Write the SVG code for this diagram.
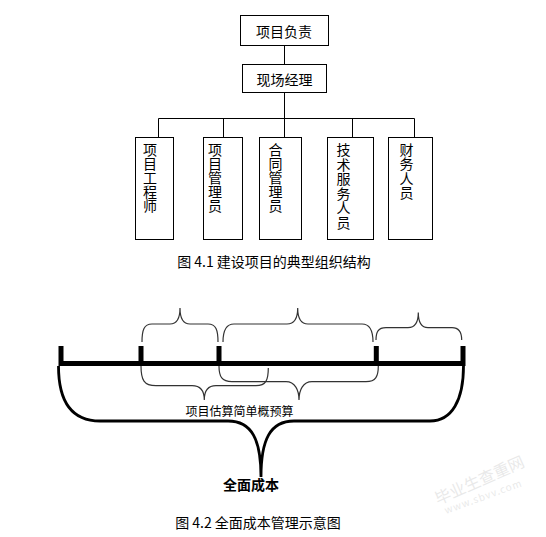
<svg xmlns="http://www.w3.org/2000/svg" width="546" height="537" viewBox="0 0 546 537">
<style>
.box{fill:#fff;stroke:#000;stroke-width:1}
.ln{fill:none;stroke:#000;stroke-width:1}
.t{font-family:"Noto Sans CJK SC","Liberation Sans",sans-serif;font-size:14px;fill:#000}
.vt{font-family:"Noto Sans CJK SC","Liberation Sans",sans-serif;font-size:14px;fill:#000;text-anchor:middle}
.br{fill:none;stroke:#333;stroke-width:1.2}
.bar{fill:none;stroke:#000;stroke-width:5}
.big{fill:none;stroke:#000;stroke-width:2.8}
</style>
<rect width="546" height="537" fill="#fff"/>
<g id="connectors">
<path class="ln" d="M284.5,45 V64 M284.5,92 V118.5 M158.5,118.5 H414.5 M158.5,118.5 V137 M223.5,118.5 V137 M284.5,118.5 V137 M352.5,118.5 V137 M414.5,118.5 V137"/>
</g>
<g id="n-top"><rect class="box" x="240.5" y="15.5" width="88" height="30"/><text class="t" x="284" y="36.5" text-anchor="middle">项目负责</text></g>
<g id="n-mgr"><rect class="box" x="242.5" y="64.5" width="84" height="28"/><text class="t" x="284.5" y="85" text-anchor="middle">现场经理</text></g>
<g id="n-eng"><rect class="box" x="135.5" y="137.5" width="38" height="102"/>
<text class="vt" y="155"><tspan x="150">项</tspan><tspan x="150" dy="14">目</tspan><tspan x="150" dy="14">工</tspan><tspan x="150" dy="14">程</tspan><tspan x="150" dy="14">师</tspan></text></g>
<g id="n-pm"><rect class="box" x="203.5" y="137.5" width="39" height="102"/>
<text class="vt" y="155"><tspan x="215">项</tspan><tspan x="215" dy="14">目</tspan><tspan x="215" dy="14">管</tspan><tspan x="215" dy="14">理</tspan><tspan x="215" dy="14">员</tspan></text></g>
<g id="n-contract"><rect class="box" x="259.5" y="137.5" width="42" height="102"/>
<text class="vt" y="155"><tspan x="275.5">合</tspan><tspan x="275.5" dy="14">同</tspan><tspan x="275.5" dy="14">管</tspan><tspan x="275.5" dy="14">理</tspan><tspan x="275.5" dy="14">员</tspan></text></g>
<g id="n-tech"><rect class="box" x="327.5" y="137.5" width="46" height="102"/>
<text class="vt" y="155"><tspan x="343.5">技</tspan><tspan x="343.5" dy="14.5">术</tspan><tspan x="343.5" dy="14.5">服</tspan><tspan x="343.5" dy="14.5">务</tspan><tspan x="343.5" dy="14.5">人</tspan><tspan x="343.5" dy="14.5">员</tspan></text></g>
<g id="n-fin"><rect class="box" x="388.5" y="137.5" width="44" height="102"/>
<text class="vt" y="155"><tspan x="406.5">财</tspan><tspan x="406.5" dy="14.3">务</tspan><tspan x="406.5" dy="14.3">人</tspan><tspan x="406.5" dy="14.3">员</tspan></text></g>
<text class="t" x="274" y="267" text-anchor="middle">图 4.1 建设项目的典型组织结构</text>

<g id="fig2">
<path class="br" d="M142,342 C142,330 144,324 152,324 L170,324 C177,324 180,318 180,308 C180,318 183,324 190,324 L208,324 C216,324 218,330 218,342"/>
<path class="br" d="M223,342 C223,330 226,324 234,324 L287,324 C294,324 297.7,318 297.7,308 C297.7,318 301,324 308,324 L362,324 C370,324 373,330 373,342"/>
<path class="br" d="M376,340 C376,332 378,327.7 386,327.7 L408,327.7 C415,327.7 418.3,322 418.3,312.5 C418.3,322 421,327.7 428,327.7 L452,327.7 C459,327.7 461.7,332 461.7,340"/>
<path class="br" d="M141,366 C141,380 144,385.7 156,385.7 L192,385.7 C200,385.7 204.3,391 204.3,400 C204.3,391 208,385.7 216,385.7 L256,385.7 C266,385.7 268.3,380 268.3,368"/>
<path class="br" d="M219,366 C219,377 222,381.7 232,381.7 L286,381.7 C295,381.7 299,390 299,400 C299,390 303,381.7 312,381.7 L366,381.7 C376,381.7 378.3,376 378.3,366"/>
<path class="bar" d="M61,346 V363.5 M141,346 V363.5 M219,346 V363.5 M376.3,346 V363.5 M463,346 V363.5 M58.5,363.5 H465.5"/>
<path class="big" d="M58.5,366 C58.5,400 70,421 100,421 L228,421 C252,421 261,440 261,477 C261,440 270,421 294,421 L430,421 C452,421 463.5,400 463.5,366"/>
<text class="t" x="239.5" y="415.5" text-anchor="middle" style="font-size:12px">项目估算简单概预算</text>
<text class="t" x="251" y="490" text-anchor="middle" style="font-weight:bold">全面成本</text>
</g>
<text class="t" x="258" y="528" text-anchor="middle">图 4.2 全面成本管理示意图</text>
<g id="watermark" opacity="0.18">
<text class="t" x="438" y="505" transform="rotate(-24 438 505)" style="font-size:16px;fill:#888">毕业生查重网</text>
<text class="t" x="446" y="514" transform="rotate(-20 446 514)" style="font-size:10px;fill:#888;letter-spacing:1px">www.sbvv.com</text>
</g>
</svg>
